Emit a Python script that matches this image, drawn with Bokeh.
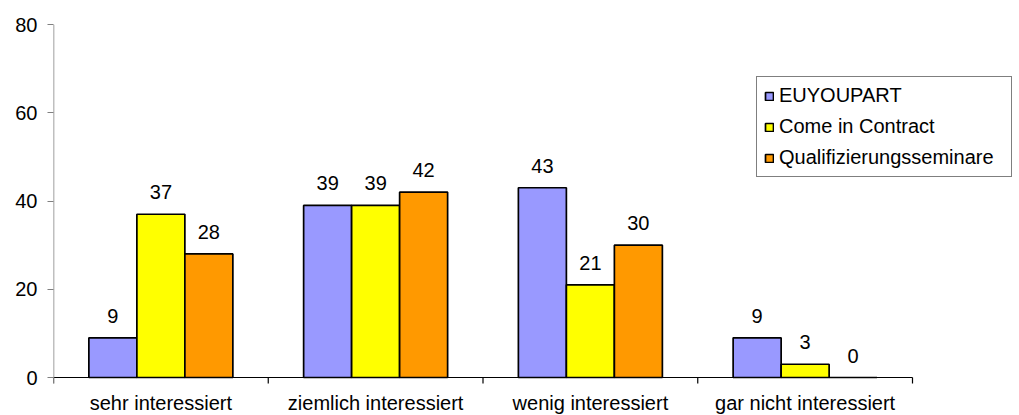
from bokeh.plotting import figure
from bokeh.models import ColumnDataSource, Range1d, FixedTicker, Legend, LegendItem
from bokeh.core.properties import value
from bokeh.transform import dodge
from bokeh.embed import file_html
from bokeh.resources import INLINE

categories = ["sehr interessiert", "ziemlich interessiert", "wenig interessiert", "gar nicht interessiert"]
series_names = ["EUYOUPART", "Come in Contract", "Qualifizierungsseminare"]
euyoupart = [9, 39, 43, 9]
come_in_contract = [37, 39, 21, 3]
qualifizierung = [28, 42, 30, 0]
y_ticks = [0, 20, 40, 60, 80]

colors = ["#9999FF", "#FFFF00", "#FF9900"]
FONT = "Liberation Sans"
FS = "20px"

n = len(categories)
y_max = y_ticks[-1]
px_per_unit = 353 / y_max          # plot height of the value scale in pixels
below = 38 / px_per_unit           # room under the baseline for category labels
tick_len = 6 / px_per_unit
x_end = n * (1012 - 53) / (912 - 53)   # leaves space on the right for the legend

centers = [i + 0.5 for i in range(n)]
bounds = list(range(n + 1))
src = ColumnDataSource(dict(x=centers, cat=categories,
                            s0=euyoupart, s1=come_in_contract, s2=qualifizierung,
                            t0=[str(v) for v in euyoupart],
                            t1=[str(v) for v in come_in_contract],
                            t2=[str(v) for v in qualifizierung]))

p = figure(width=1019, height=415, output_backend="svg", toolbar_location=None,
           x_range=Range1d(0, x_end), y_range=Range1d(-below, y_max),
           min_border_left=53, min_border_right=7, min_border_top=24, min_border_bottom=0)
p.outline_line_color = None
p.xgrid.visible = False
p.ygrid.visible = False
p.xaxis.visible = False

bw = 0.2235
offsets = [-bw, 0, bw]
renderers = []
for i, col in enumerate(colors):
    r = p.vbar(x=dodge("x", offsets[i], range=p.x_range), top=f"s{i}", bottom=0, width=bw,
               source=src, fill_color=col, line_color="black", line_width=1.7)
    renderers.append(r)
    p.text(x=dodge("x", offsets[i], range=p.x_range), y=f"s{i}", text=f"t{i}", source=src,
           text_align="center", text_baseline="middle", y_offset=-22,
           text_font=value(FONT), text_font_size=FS, text_color="black")

# category axis: baseline, boundary ticks and labels
p.segment(x0=0, y0=0, x1=n, y1=0, line_color="black", line_width=1.2)
p.segment(x0=bounds, y0=[0] * len(bounds), x1=bounds, y1=[-tick_len] * len(bounds),
          line_color="black", line_width=1.2)
p.text(x="x", y=0, text="cat", source=src, text_align="center", text_baseline="top",
       y_offset=14, text_font=value(FONT), text_font_size=FS, text_color="black")

# value axis
p.segment(x0=0, y0=-tick_len, x1=0, y1=y_max, line_color="#808080", line_width=1.5)
ya = p.yaxis[0]
ya.ticker = FixedTicker(ticks=y_ticks)
ya.axis_line_color = None
ya.minor_tick_line_color = None
ya.major_tick_out = 6
ya.major_tick_in = 0
ya.major_tick_line_color = "#808080"
ya.major_tick_line_width = 1.2
ya.major_label_text_font = FONT
ya.major_label_text_font_size = FS
ya.major_label_text_color = "black"
ya.major_label_standoff = 10

legend = Legend(items=[LegendItem(label=nm, renderers=[r]) for nm, r in zip(series_names, renderers)],
                location=(703, 238), border_line_color="black", border_line_width=1,
                background_fill_color="white", background_fill_alpha=1,
                glyph_width=10, glyph_height=10, label_height=22, label_width=225,
                spacing=8, padding=7, margin=0, label_standoff=5,
                label_text_font=FONT, label_text_font_size=FS, label_text_color="black")
p.add_layout(legend, "center")

open("out.html", "w").write(file_html(p, INLINE))
